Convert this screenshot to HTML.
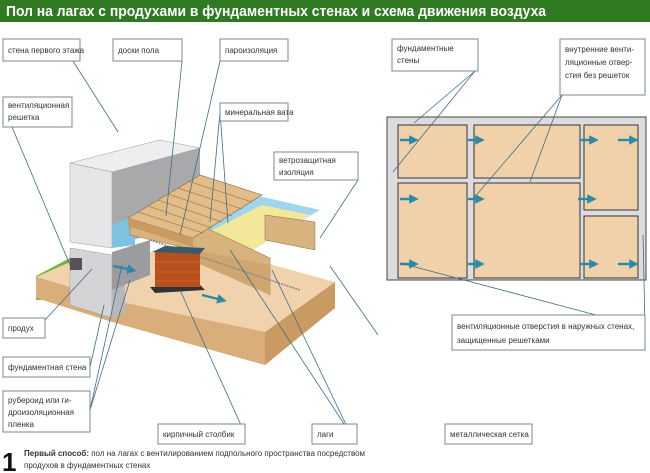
<!DOCTYPE html>
<html><head><meta charset="utf-8"><style>
html,body{margin:0;padding:0;background:#fff;}
svg{display:block;font-family:"Liberation Sans",sans-serif;}
.l{font-size:8px;fill:#333;}
.b{fill:#fff;stroke:#7a8a96;stroke-width:1;}
.ln{stroke:#3f6e86;stroke-width:0.8;fill:none;}
.a{stroke:#2b8aa8;stroke-width:2.4;}
</style></head><body>
<svg width="650" height="473" viewBox="0 0 650 473">
<defs><marker id="ah" markerWidth="4" markerHeight="4" refX="2" refY="2" orient="auto"><path d="M0,0L4,2L0,4z" fill="#2b8aa8"/></marker></defs>
<rect x="0" y="0" width="650" height="22" fill="#2f7a22"/>
<text x="6" y="16" font-size="14.5" font-weight="bold" fill="#fff" textLength="540" lengthAdjust="spacingAndGlyphs">Пол на лагах с продухами в фундаментных стенах и схема движения воздуха</text>

<!-- 3D drawing -->
<polygon points="36,276 70,258 112,270 112,300 36,300" fill="#6fb43c"/>
<polygon points="36,277 112,300 265,332 335,282 262,262 170,250 112,255 70,262" fill="#f0d3ad"/>
<polygon points="36,277 112,300 112,322 36,298" fill="#d9ae7a"/>
<polygon points="112,300 265,332 265,365 112,322" fill="#d9ae7a"/>
<polygon points="265,332 335,282 335,308 265,365" fill="#c99a62"/>
<!-- foundation wall -->
<polygon points="70,248 112,255 112,318 70,305" fill="#d4d4d6" stroke="#999" stroke-width="0.5"/>
<polygon points="112,255 125,250 125,312 112,318" fill="#b8b8ba"/>
<polygon points="112,252 150,240 150,275 112,290" fill="#9c9ca0"/>
<rect x="70" y="258" width="12" height="12" fill="#555"/>
<!-- upper wall -->
<polygon points="70,163 160,140 200,148 112,172" fill="#eeeeef" stroke="#999" stroke-width="0.5"/>
<polygon points="70,163 112,172 112,248 70,242" fill="#e6e6e8" stroke="#999" stroke-width="0.5"/>
<polygon points="112,172 200,148 200,215 112,248" fill="#a9a9ac"/>
<polygon points="112,225 135,215 135,245 112,248" fill="#7cc3e0"/>
<!-- blue vapor barrier -->
<polygon points="130,222 210,185 320,210 250,250" fill="#9fd6ec"/>
<!-- mineral wool -->
<polygon points="193,240 262,205 310,215 250,252" fill="#f3e79a"/>
<!-- joists -->
<polygon points="130,235 195,250 270,295 270,258 200,225 130,222" fill="#d9b37e" stroke="#8a6a40" stroke-width="0.5"/>
<polygon points="195,250 270,265 270,295 195,262" fill="#cfa66f"/>
<polygon points="265,215 315,222 315,250 265,240" fill="#d9b37e" stroke="#8a6a40" stroke-width="0.5"/>
<!-- boards -->
<polygon points="128,218 200,175 262,195 193,238" fill="#e2bd87" stroke="#8a6a40" stroke-width="0.6"/>
<g stroke="#8a6a40" stroke-width="0.6">
<line x1="138" y1="212" x2="203" y2="233"/><line x1="148" y1="206" x2="212" y2="228"/>
<line x1="158" y1="200" x2="222" y2="222"/><line x1="168" y1="194" x2="232" y2="216"/>
<line x1="178" y1="188" x2="242" y2="209"/><line x1="188" y1="181" x2="252" y2="202"/></g>
<polygon points="128,218 193,238 193,247 128,226" fill="#c99a62"/>
<line x1="150" y1="240" x2="300" y2="290" stroke="#888" stroke-width="1.5" stroke-dasharray="2,1"/>
<!-- brick pillar -->
<polygon points="150,287 200,285 205,290 155,293" fill="#333"/>
<rect x="155" y="252" width="45" height="35" fill="#b8501e"/>
<polygon points="152,252 165,246 205,248 200,254" fill="#3a5a6a"/>
<g stroke="#e07a40" stroke-width="0.6"><line x1="155" y1="262" x2="200" y2="262"/><line x1="155" y1="272" x2="200" y2="272"/><line x1="155" y1="281" x2="200" y2="281"/></g>
<line x1="113" y1="266" x2="132" y2="270" class="a" marker-end="url(#ah)"/>
<line x1="202" y1="295" x2="222" y2="300" class="a" marker-end="url(#ah)"/>

<!-- plan -->
<rect x="387" y="117" width="259" height="163" fill="#dcdcde" stroke="#444" stroke-width="1"/>
<g fill="#f0d1aa" stroke="#333" stroke-width="1">
<rect x="398" y="125" width="69" height="53"/><rect x="474" y="125" width="106" height="53"/>
<rect x="584" y="125" width="54" height="85"/><rect x="398" y="183" width="69" height="95"/>
<rect x="474" y="183" width="106" height="95"/><rect x="584" y="216" width="54" height="62"/></g>
<g class="a" marker-end="url(#ah)">
<line x1="400" y1="140" x2="414" y2="140"/><line x1="468" y1="140" x2="480" y2="140"/>
<line x1="580" y1="140" x2="594" y2="140"/><line x1="618" y1="140" x2="634" y2="140"/>
<line x1="400" y1="199" x2="414" y2="199"/><line x1="468" y1="199" x2="480" y2="199"/>
<line x1="578" y1="199" x2="592" y2="199"/>
<line x1="400" y1="264" x2="414" y2="264"/><line x1="468" y1="264" x2="480" y2="264"/>
<line x1="580" y1="264" x2="594" y2="264"/><line x1="618" y1="264" x2="634" y2="264"/></g>

<!-- leader lines -->
<g class="ln">
<line x1="73" y1="61" x2="118" y2="132"/><line x1="182" y1="61" x2="166" y2="216"/>
<line x1="220" y1="61" x2="180" y2="235"/><line x1="220" y1="112" x2="210" y2="222"/><line x1="220" y1="112" x2="228" y2="223"/>
<line x1="358" y1="180" x2="320" y2="238"/><line x1="12" y1="127" x2="70" y2="265"/>
<line x1="45" y1="320" x2="92" y2="269"/><line x1="90" y1="367" x2="104" y2="305"/>
<line x1="90" y1="410" x2="122" y2="265"/><line x1="90" y1="410" x2="130" y2="280"/>
<line x1="245" y1="434" x2="180" y2="290"/><line x1="350" y1="433" x2="272" y2="270"/><line x1="350" y1="433" x2="230" y2="250"/>
<line x1="378" y1="335" x2="330" y2="266"/>
<line x1="475" y1="71" x2="414" y2="123"/><line x1="475" y1="71" x2="393" y2="172"/>
<line x1="562" y1="95" x2="530" y2="182"/><line x1="562" y1="95" x2="473" y2="199"/>
<line x1="645" y1="328" x2="400" y2="263"/><line x1="645" y1="328" x2="643" y2="235"/></g>

<!-- labels -->
<g>
<rect class="b" x="3" y="39" width="77" height="22"/><text class="l" x="8" y="53">стена первого этажа</text>
<rect class="b" x="113" y="39" width="69" height="22"/><text class="l" x="118" y="53">доски пола</text>
<rect class="b" x="220" y="39" width="68" height="22"/><text class="l" x="225" y="53">пароизоляция</text>
<rect class="b" x="3" y="97" width="69" height="30"/><text class="l" x="8" y="108">вентиляционная</text><text class="l" x="8" y="120">решетка</text>
<rect class="b" x="220" y="103" width="68" height="18"/><text class="l" x="225" y="115">минеральная вата</text>
<rect class="b" x="274" y="152" width="84" height="28"/><text class="l" x="279" y="163">ветрозащитная</text><text class="l" x="279" y="175">изоляция</text>
<rect class="b" x="392" y="39" width="86" height="32"/><text class="l" x="397" y="51">фундаментные</text><text class="l" x="397" y="63">стены</text>
<rect class="b" x="560" y="39" width="85" height="56"/><text class="l" x="565" y="52">внутренние венти-</text><text class="l" x="565" y="65">ляционные отвер-</text><text class="l" x="565" y="78">стия без решеток</text>
<rect class="b" x="3" y="318" width="42" height="20"/><text class="l" x="8" y="331">продух</text>
<rect class="b" x="3" y="357" width="87" height="20"/><text class="l" x="8" y="370">фундаментная стена</text>
<rect class="b" x="3" y="391" width="87" height="41"/><text class="l" x="8" y="403">рубероид или ги-</text><text class="l" x="8" y="415">дроизоляционная</text><text class="l" x="8" y="427">пленка</text>
<rect class="b" x="158" y="424" width="87" height="20"/><text class="l" x="163" y="437">кирпичный столбик</text>
<rect class="b" x="312" y="424" width="45" height="20"/><text class="l" x="317" y="437">лаги</text>
<rect class="b" x="445" y="424" width="87" height="20"/><text class="l" x="450" y="437">металлическая сетка</text>
<rect class="b" x="452" y="315" width="193" height="35"/><text class="l" x="457" y="329">вентиляционные отверстия в наружных стенах,</text><text class="l" x="457" y="343">защищенные решетками</text>
</g>
<text x="2" y="471" font-size="26" font-weight="bold" fill="#111">1</text>
<text x="24" y="456" font-size="8" fill="#333"><tspan font-weight="bold">Первый способ:</tspan> пол на лагах с вентилированием подпольного пространства посредством</text>
<text x="24" y="468" font-size="8" fill="#333">продухов в фундаментных стенах</text>
</svg>
</body></html>
